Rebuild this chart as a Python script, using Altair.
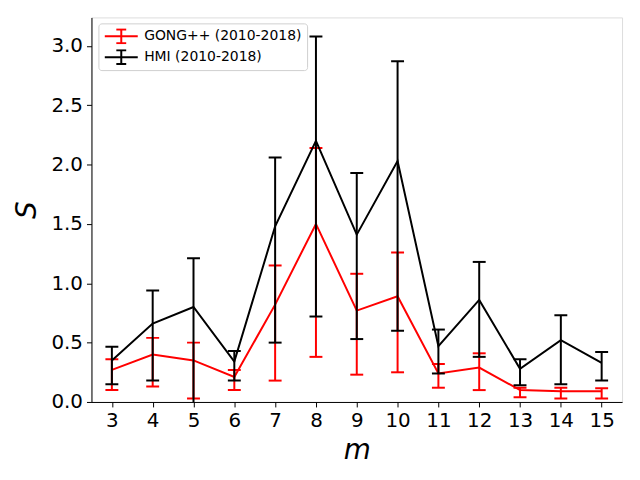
import altair as alt
import pandas as pd

m_vals = list(range(3, 16))

gong_S = [0.27, 0.40, 0.35, 0.21, 0.82, 1.50, 0.77, 0.89, 0.24, 0.29, 0.10, 0.09, 0.09]
gong_lo = [0.10, 0.13, 0.03, 0.10, 0.18, 0.38, 0.23, 0.25, 0.12, 0.10, 0.04, 0.03, 0.03]
gong_hi = [0.36, 0.54, 0.50, 0.27, 1.15, 2.14, 1.08, 1.26, 0.32, 0.41, 0.12, 0.12, 0.115]

hmi_S = [0.35, 0.66, 0.80, 0.34, 1.48, 2.20, 1.41, 2.03, 0.47, 0.86, 0.28, 0.52, 0.33]
hmi_lo = [0.15, 0.18, -0.05, 0.18, 0.50, 0.72, 0.53, 0.60, 0.24, 0.38, 0.14, 0.15, 0.18]
hmi_hi = [0.465, 0.94, 1.21, 0.43, 2.06, 3.08, 1.93, 2.87, 0.61, 1.18, 0.36, 0.73, 0.42]

series_names = ["GONG++ (2010-2018)", "HMI (2010-2018)"]
series_colors = ["#ff0000", "#000000"]

rows = []
for name, S, lo, hi in [(series_names[0], gong_S, gong_lo, gong_hi),
                        (series_names[1], hmi_S, hmi_lo, hmi_hi)]:
    for m, s, l, h in zip(m_vals, S, lo, hi):
        rows.append({"m": m, "S": s, "lo": l, "hi": h, "series": name})
df = pd.DataFrame(rows)

FONT = "DejaVu Sans"
legend_path = "M-1,0H1M0,-0.42V0.42M-0.3,-0.42H0.3M-0.3,0.42H0.3"

xscale = alt.Scale(domain=[2.5, 15.5], nice=False, zero=False)
yscale = alt.Scale(domain=[0, 3.24], nice=False, zero=False)
color = alt.Color("series:N",
                  scale=alt.Scale(domain=series_names, range=series_colors),
                  legend=alt.Legend(title=None, orient="none", legendX=7, legendY=6,
                                    symbolType=legend_path, symbolSize=1100,
                                    symbolStrokeWidth=2, symbolFillColor="transparent",
                                    symbolOpacity=1,
                                    clipHeight=16, rowPadding=5, labelOffset=5,
                                    labelFontSize=14, labelFont=FONT, labelColor="#000000",
                                    padding=5, fillColor="white", strokeColor="#d0d0d0",
                                    cornerRadius=3))

xax = alt.Axis(values=m_vals, title="m", grid=False, labelFontSize=20, labelFont=FONT,
               titleFontSize=28, titleFont=FONT, titleFontStyle="italic",
               titleFontWeight="normal", titlePadding=6, tickSize=5, labelPadding=4,
               domainColor="black", tickColor="black", labelColor="black", titleColor="black")
yax = alt.Axis(values=[0, 0.5, 1.0, 1.5, 2.0, 2.5, 3.0], format=".1f", title="S", grid=False,
               labelFontSize=20, labelFont=FONT, titleFontSize=28, titleFont=FONT,
               titleFontStyle="italic", titleFontWeight="normal", titlePadding=10,
               tickSize=5, labelPadding=4, domainColor="black", tickColor="black",
               labelColor="black", titleColor="black")

base = alt.Chart(df)

layers = []
for i, name in enumerate(series_names):
    b = base.transform_filter(alt.datum.series == name)
    rule = b.mark_rule(strokeWidth=2, opacity=1, clip=True).encode(
        x=alt.X("m:Q", scale=xscale, axis=xax),
        y=alt.Y("lo:Q", scale=yscale, axis=yax),
        y2="hi:Q",
        color=color)
    cap_lo = b.mark_tick(orient="horizontal", size=13, thickness=2, opacity=1, clip=True).encode(
        x=alt.X("m:Q", scale=xscale), y=alt.Y("lo:Q", scale=yscale), color=color)
    cap_hi = b.mark_tick(orient="horizontal", size=13, thickness=2, opacity=1, clip=True).encode(
        x=alt.X("m:Q", scale=xscale), y=alt.Y("hi:Q", scale=yscale), color=color)
    line = b.mark_line(strokeWidth=2, opacity=1, clip=True).encode(
        x=alt.X("m:Q", scale=xscale), y=alt.Y("S:Q", scale=yscale), color=color)
    layers += [rule, cap_lo, cap_hi, line]

chart = alt.layer(*layers).properties(
    width=534, height=387,
    autosize=alt.AutoSizeParams(type="none"),
    padding={"left": 84, "top": 8, "right": 10, "bottom": 70},
).configure_view(stroke="black", strokeWidth=1).configure(background="white")

chart.save("out.html", embed_options={"renderer": "svg", "actions": False})
